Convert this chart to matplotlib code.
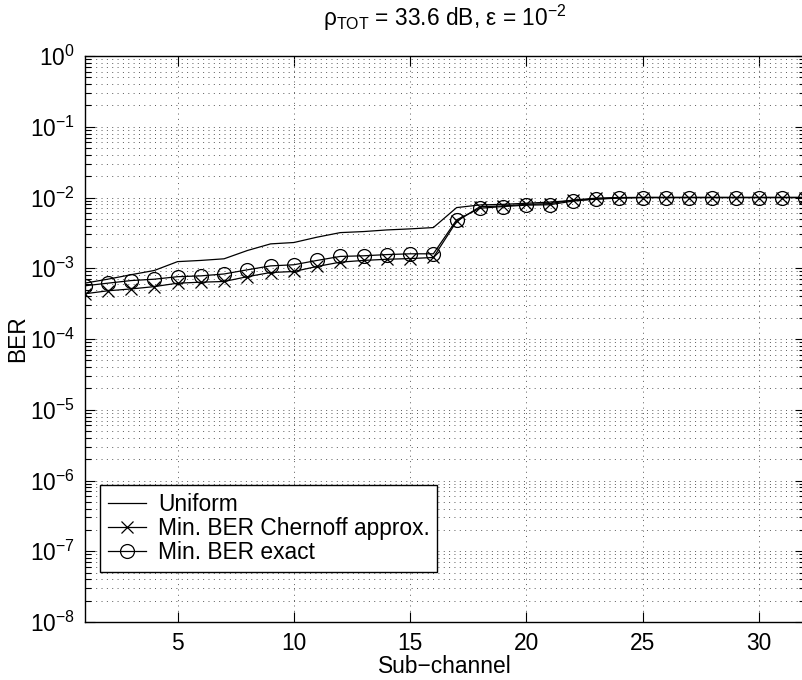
import matplotlib
matplotlib.use("Agg")
import matplotlib.pyplot as plt
from matplotlib.ticker import LogLocator, NullFormatter

plt.rcParams["font.family"] = ["Liberation Sans", "DejaVu Sans"]
plt.rcParams["mathtext.fontset"] = "custom"
plt.rcParams["mathtext.rm"] = "Liberation Sans"
plt.rcParams["mathtext.it"] = "Liberation Sans:italic"
plt.rcParams["mathtext.default"] = "regular"

FONT_SIZE = 16.4

subchannels = list(range(1, 33))

ber_uniform = [6.15e-4, 7.0e-4, 8.1e-4, 9.3e-4, 1.24e-3, 1.29e-3, 1.36e-3, 1.78e-3,
               2.21e-3, 2.31e-3, 2.75e-3, 3.19e-3, 3.30e-3, 3.48e-3, 3.60e-3, 3.76e-3,
               7.2e-3, 7.85e-3, 8.0e-3, 8.3e-3, 8.6e-3, 9.1e-3, 9.5e-3, 9.8e-3,
               1e-2, 1e-2, 1e-2, 1e-2, 1e-2, 1e-2, 1e-2, 1e-2]

ber_chernoff = [4.35e-4, 4.8e-4, 5.1e-4, 5.5e-4, 6.15e-4, 6.35e-4, 6.5e-4, 7.6e-4,
                8.7e-4, 9.0e-4, 1.06e-3, 1.22e-3, 1.29e-3, 1.34e-3, 1.37e-3, 1.42e-3,
                4.6e-3, 7.4e-3, 7.6e-3, 8.0e-3, 8.2e-3, 9.2e-3, 9.8e-3, 1e-2,
                1e-2, 1e-2, 1e-2, 1e-2, 1e-2, 1e-2, 1e-2, 1e-2]

ber_exact = [5.64e-4, 6.15e-4, 6.7e-4, 7.0e-4, 7.6e-4, 7.8e-4, 8.3e-4, 9.5e-4,
             1.08e-3, 1.12e-3, 1.29e-3, 1.47e-3, 1.50e-3, 1.56e-3, 1.60e-3, 1.60e-3,
             4.83e-3, 7.05e-3, 7.45e-3, 7.8e-3, 7.9e-3, 8.9e-3, 9.5e-3, 9.95e-3,
             1e-2, 1e-2, 1e-2, 1e-2, 1e-2, 1e-2, 1e-2, 1e-2]

fig = plt.figure(figsize=(8.02, 6.8), dpi=100)
ax = fig.add_axes([84.5 / 802, 1 - 622 / 680, 721 / 802, 566 / 680])

ax.semilogy(subchannels, ber_uniform, color="black", linewidth=0.9,
            label="Uniform")
ax.semilogy(subchannels, ber_chernoff, color="black", linewidth=0.9,
            marker="x", markersize=8, markeredgewidth=0.9,
            label="Min. BER Chernoff approx.")
ax.semilogy(subchannels, ber_exact, color="black", linewidth=0.9,
            marker="o", markersize=10, markerfacecolor="none", markeredgewidth=0.9,
            label="Min. BER exact")

ax.set_xlim(1, 32)
ax.set_ylim(1e-8, 1e0)
ax.set_xticks([5, 10, 15, 20, 25, 30])
ax.yaxis.set_major_locator(LogLocator(base=10, numticks=20))
ax.yaxis.set_minor_locator(LogLocator(base=10, subs=range(2, 10), numticks=20))
ax.yaxis.set_minor_formatter(NullFormatter())

ax.grid(True, which="major", axis="both", color="0.35", linestyle=(0, (1, 4.5)),
        linewidth=0.7)
ax.grid(True, which="minor", axis="y", color="0.35", linestyle=(0, (1, 4.5)),
        linewidth=0.7)

ax.tick_params(which="both", direction="in", top=True, right=True,
               labelsize=FONT_SIZE, width=0.8)
ax.tick_params(which="major", length=7, pad=7)
ax.tick_params(which="minor", length=4)
for s in ax.spines.values():
    s.set_linewidth(1.0)

ax.set_xlabel("Sub\u2212channel", fontsize=FONT_SIZE, labelpad=0)
ax.set_ylabel("BER", fontsize=FONT_SIZE, labelpad=0)
ax.set_title("\u03c1$_{TOT}$ = 33.6 dB, \u03b5 = 10$^{\u22122}$",
             fontsize=FONT_SIZE, pad=22)

leg = ax.legend(loc="lower left", bbox_to_anchor=(0.022, 0.088), borderaxespad=0,
                fontsize=FONT_SIZE, handlelength=1.67, handletextpad=0.5,
                labelspacing=0.05, borderpad=0.35, fancybox=False, framealpha=1)
leg.get_frame().set_edgecolor("black")
leg.get_frame().set_linewidth(1.0)

fig.savefig("out.png", dpi=100)
